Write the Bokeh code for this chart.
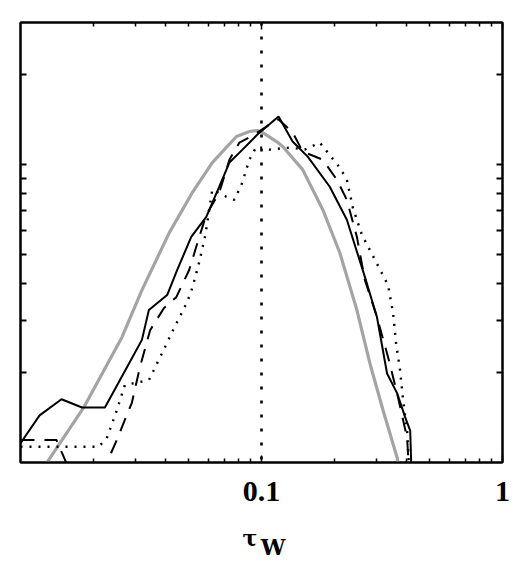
from bokeh.plotting import figure
from bokeh.models import Range1d, LogAxis, FixedTicker, Span
from bokeh.embed import file_html
from bokeh.resources import INLINE

# ---- data (tau_W, counts) ----
tau_solid = [0.0100, 0.0120, 0.0148, 0.0180, 0.0224, 0.0282, 0.0319, 0.0341, 0.0406, 0.0447,
             0.0511, 0.0590, 0.0668, 0.0736, 0.0834, 0.0962, 0.1177, 0.1346, 0.1555, 0.1920,
             0.2260, 0.2685, 0.3013, 0.3319, 0.3652, 0.3944, 0.4140, 0.4217]
n_solid = [1.16, 1.44, 1.63, 1.53, 1.53, 2.15, 2.58, 3.25, 3.65, 4.43,
           5.72, 6.68, 8.43, 10.16, 11.23, 12.62, 14.51, 11.95, 10.64, 8.43,
           6.53, 4.20, 3.08, 1.99, 1.71, 1.42, 1.28, 0.80]

tau_dashed = [0.0100, 0.0141, 0.0159, 0.0222, 0.0251, 0.0271, 0.0290, 0.0313, 0.0345, 0.0394,
              0.0443, 0.0501, 0.0552, 0.0590, 0.0668, 0.0736, 0.0810, 0.0935, 0.1080, 0.1177,
              0.1346, 0.1482, 0.1796, 0.2054, 0.2260, 0.2488, 0.2685, 0.3013, 0.3350, 0.3652,
              0.4019, 0.4140]
n_dashed = [1.19, 1.19, 0.95, 0.95, 1.19, 1.39, 1.59, 2.09, 2.78, 3.30,
            3.59, 4.43, 5.72, 6.79, 8.05, 10.39, 11.86, 12.62, 13.64, 14.18,
            12.85, 11.06, 10.39, 8.90, 7.62, 5.72, 4.10, 3.08, 2.26, 1.71,
            1.21, 0.80]

tau_dotted = [0.0100, 0.0211, 0.0228, 0.0249, 0.0271, 0.0341, 0.0387, 0.0434, 0.0492, 0.0516,
              0.0552, 0.0585, 0.0625, 0.0715, 0.0772, 0.0826, 0.0891, 0.0953, 0.1080, 0.1309,
              0.1511, 0.1745, 0.2113, 0.2260, 0.2394, 0.2610, 0.2957, 0.3350, 0.3516, 0.3616,
              0.3758, 0.3868, 0.4019, 0.4140]
n_dotted = [1.13, 1.13, 1.205, 1.47, 1.82, 1.89, 2.33, 2.83, 3.46, 3.85,
            4.72, 5.81, 8.24, 7.80, 7.62, 8.56, 10.39, 11.50, 11.23, 11.41,
            11.23, 11.86, 9.77, 8.90, 7.17, 5.81, 4.79, 3.94, 3.17, 2.52,
            2.04, 1.62, 1.28, 0.80]

tau_fit = [0.01235, 0.0183, 0.0264, 0.0319, 0.0414, 0.0516, 0.0625, 0.0787, 0.0891, 0.0962,
           0.1010, 0.1155, 0.1224, 0.1482, 0.1796, 0.2113, 0.2488, 0.2818, 0.3192, 0.3652,
           0.3722]
n_fit = [0.95, 1.53, 2.64, 3.79, 5.90, 8.05, 10.16, 12.43, 12.92, 13.02,
         12.82, 11.95, 11.50, 9.62, 7.06, 5.06, 3.25, 2.15, 1.50, 1.04,
         0.95]

tau_marker = 0.1
x_major = [0.1, 1.0]
x_minor = [0.02, 0.03, 0.04, 0.05, 0.06, 0.07, 0.08, 0.09,
           0.2, 0.3, 0.4, 0.5, 0.6, 0.7, 0.8, 0.9]
x_labels = {0.1: "0.1", 1.0: "1"}
y_major = [2, 3, 4, 5, 6, 7, 8, 9, 10, 20]
x_title_main = "τ"
x_title_sub = "W"

p = figure(x_axis_type="log", y_axis_type="log",
           x_range=Range1d(0.01, 1.0), y_range=Range1d(1.0, 30.0),
           frame_width=482, frame_height=440,
           min_border_left=20, min_border_right=13, min_border_top=22, min_border_bottom=101,
           output_backend="svg", toolbar_location=None)
p.grid.visible = False
p.background_fill_color = "white"
p.border_fill_color = "white"
p.outline_line_color = "black"
p.outline_line_width = 2

# curves
p.line(tau_fit, n_fit, line_color="#a4a4a4", line_width=3.2)
p.line(tau_dotted, n_dotted, line_color="black", line_width=2.4, line_dash="2 7")
p.line(tau_dashed, n_dashed, line_color="black", line_width=2, line_dash="14 10")
p.line(tau_solid, n_solid, line_color="black", line_width=2)

p.add_layout(Span(location=tau_marker, dimension="height", line_color="black",
                  line_width=2.6, line_dash="3 11"))


def hide_labels(ax, ticks):
    ax.major_label_overrides = {t: "" for t in ticks}
    ax.major_label_text_font_size = "1px"
    ax.major_label_standoff = 0


def style_x(ax, labels):
    ax.ticker = FixedTicker(ticks=x_major, minor_ticks=x_minor)
    ax.major_tick_in = 7
    ax.major_tick_out = 0
    ax.minor_tick_in = 4
    ax.minor_tick_out = 0
    ax.axis_line_width = 2
    ax.major_tick_line_width = 1.5
    ax.minor_tick_line_width = 1.5
    if labels:
        ax.major_label_overrides = x_labels
        ax.major_label_text_font = "Liberation Serif"
        ax.major_label_text_font_style = "bold"
        ax.major_label_text_font_size = "30px"
        ax.major_label_text_color = "black"
        ax.major_label_standoff = 19
    else:
        hide_labels(ax, x_major)


def style_y(ax):
    ax.ticker = FixedTicker(ticks=y_major, minor_ticks=[])
    ax.major_tick_in = 6
    ax.major_tick_out = 0
    ax.minor_tick_in = 0
    ax.minor_tick_out = 0
    ax.axis_line_width = 2
    ax.major_tick_line_width = 2
    hide_labels(ax, y_major)


style_x(p.xaxis[0], True)
style_y(p.yaxis[0])

# axis title tau_W: two lines, the W line pulled up close to tau (subscript look)
nb = "\u00a0"
xa = p.xaxis[0]
xa.axis_label = x_title_main + nb * 3 + "\n" + nb * 3 + x_title_sub
xa.axis_label_text_font = "DejaVu Serif"
xa.axis_label_text_font_style = "bold"
xa.axis_label_text_font_size = "22px"
xa.axis_label_text_line_height = 0.35
xa.axis_label_text_color = "black"
xa.axis_label_standoff = 21

top = LogAxis()
style_x(top, False)
p.add_layout(top, "above")
right = LogAxis()
style_y(right)
p.add_layout(right, "right")

open("out.html", "w").write(file_html(p, INLINE))
